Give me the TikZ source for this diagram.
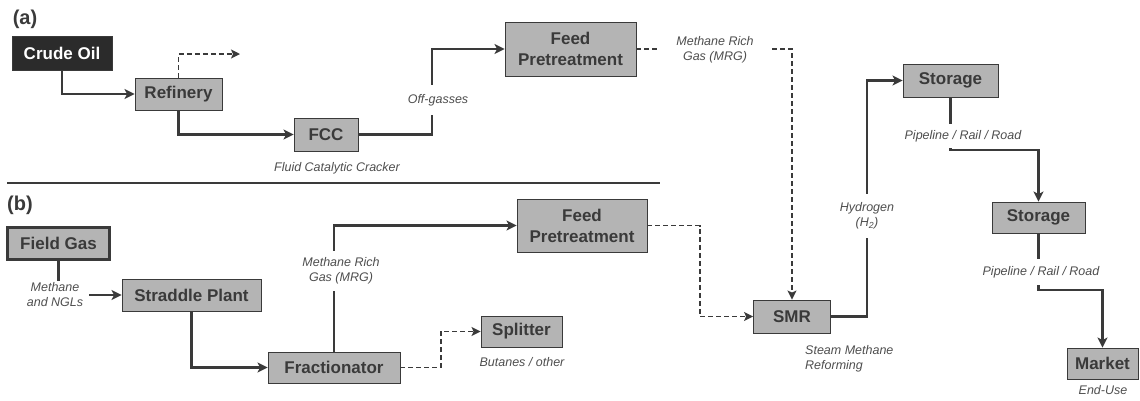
\documentclass[tikz,border=0pt]{standalone}
\usepackage{fontspec}
\setmainfont{Liberation Sans}
\usetikzlibrary{arrows.meta}
\definecolor{boxgray}{HTML}{B4B4B4}
\definecolor{inkgray}{HTML}{3A3A3A}
\definecolor{oilblack}{HTML}{2B2B2B}

\begin{document}
\begin{tikzpicture}[x=1pt,y=-1pt,
  unit/.style={draw=inkgray, line width=0.9pt, fill=boxgray, text=inkgray,
    font=\fontsize{17}{21}\selectfont\bfseries, align=center,
    inner sep=0pt, minimum height=32pt},
  note/.style={text=inkgray!90, font=\fontsize{12.5}{15}\selectfont\itshape,
    align=center, inner sep=2pt},
  gap/.style={note, fill=white},
  pipe/.style={draw=inkgray, line width=2.5pt},
  flow/.style={pipe, -{Stealth[length=10pt,width=10pt,inset=2.5pt]}},
  gasline/.style={draw=inkgray, line width=1.3pt, dash pattern=on 5pt off 3pt,
    -{Stealth[length=9pt,width=9pt,inset=2pt]}},
  tag/.style={text=inkgray, font=\fontsize{20}{22}\selectfont\bfseries, inner sep=0pt}]
  \useasboundingbox (0,0) rectangle (1140,400);

  % (a) refinery route
  \node[tag] (taga) at (25,19) {(a)};
  \node[unit, fill=oilblack, text=white, minimum width=100pt, minimum height=34pt] (crude) at (62,53) {Crude Oil};
  \node[unit, minimum width=87pt] (refinery) at (178.5,94) {Refinery};
  \node[unit, minimum width=64pt, minimum height=33pt] (fcc) at (326,134.5) {FCC};
  \node[unit, minimum width=131pt, minimum height=54pt] (feedA) at (570.5,49) {Feed\\Pretreatment};
  \node[note] (fccnote) at (337,168) {Fluid Catalytic Cracker};
  \coordinate (byprod) at (240,54);

  \draw[flow] (crude.south) |- (refinery.west);
  \draw[gasline] (refinery.north) |- (byprod);
  \draw[flow] (refinery.south) |- (fcc.west);
  \draw[flow] (fcc.east) -- (432,134.5) -- (432,49) -- (feedA.west);
  \node[gap, inner ysep=9pt] (offgas) at (438,100) {Off-gasses};

  % divider
  \draw[draw=inkgray, line width=2pt] (7,183) -- (660,183);

  % (b) field gas route
  \node[tag] (tagb) at (20,205) {(b)};
  \node[unit, line width=2.4pt, minimum width=102pt, minimum height=32pt] (field) at (58.5,243.5) {Field Gas};
  \node[note] (ngl) at (55,295) {Methane\\and NGLs};
  \node[unit, minimum width=139pt] (straddle) at (191.5,295) {Straddle Plant};
  \node[unit, minimum width=132pt, minimum height=31pt] (frac) at (334,367.5) {Fractionator};
  \node[unit, minimum width=130pt, minimum height=53pt] (feedB) at (582,225.5) {Feed\\Pretreatment};
  \node[unit, minimum width=81pt, minimum height=31pt] (splitter) at (521.5,331.5) {Splitter};
  \node[note] (butanes) at (522,362) {Butanes / other};

  \draw[pipe] (field.south) -- (field.south |- ngl.north);
  \draw[flow] (ngl.east) ++(4,0) -- (straddle.west);
  \draw[flow] (straddle.south) |- (frac.west);
  \draw[flow] (frac.north) |- (feedB.west);
  \node[gap, inner ysep=7pt] (mrgb) at (341,271) {Methane Rich\\Gas (MRG)};
  \draw[gasline] (frac.east) -- (441,367.5) |- (splitter.west);

  % reforming and delivery
  \node[unit, minimum width=77pt, minimum height=33pt] (smr) at (792,316.5) {SMR};
  \node[note, align=left, anchor=west] (smrnote) at (803,358.5) {Steam Methane\\Reforming};
  \node[unit, minimum width=95pt, minimum height=33pt] (storeA) at (950.5,80.5) {Storage};
  \node[unit, minimum width=93pt, minimum height=31pt] (storeB) at (1038.5,217.5) {Storage};
  \node[unit, minimum width=71pt, minimum height=31pt] (market) at (1102.5,363.5) {Market};
  \node[note] (enduse) at (1103,390) {End-Use};

  \draw[gasline] (feedA.east) -- (792,49) -- (smr.north);
  \node[gap, minimum width=113pt] (mrga) at (715,50) {Methane Rich\\Gas (MRG)};
  \draw[gasline] (feedB.east) -- (700,225.5) |- (smr.west);
  \draw[flow] (smr.east) -- (867,316.5) -- (867,80.5) -- (storeA.west);
  \node[gap, minimum height=44pt] (hydro) at (867,216) {Hydrogen\\(H\textsubscript{2})};
  \draw[flow] (storeA.south) -- (950.5,150) -- (1038.5,150) -- (storeB.north);
  \node[gap, minimum height=24pt] (routeA) at (963,136) {Pipeline / Rail / Road};
  \draw[flow] (storeB.south) -- (1038.5,290) -- (1102.5,290) -- (market.north);
  \node[gap, minimum height=26pt] (routeB) at (1041,272) {Pipeline / Rail / Road};
\end{tikzpicture}
\end{document}
